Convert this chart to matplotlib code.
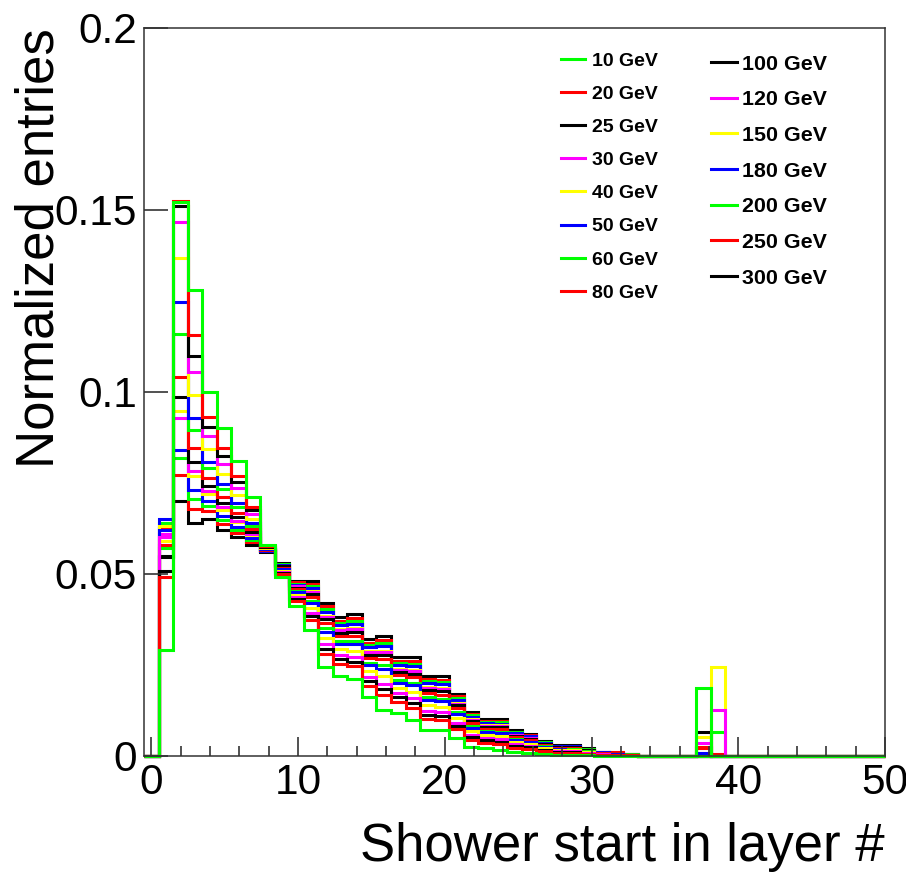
import matplotlib

matplotlib.use("Agg")
import matplotlib.pyplot as plt
import numpy as np
from matplotlib.lines import Line2D
from matplotlib.ticker import FuncFormatter, MultipleLocator

plt.rcParams["font.family"] = ["Liberation Sans", "DejaVu Sans"]

# ------------------------------------------------------------------ data
ENERGIES = [10, 20, 25, 30, 40, 50, 60, 80, 100, 120, 150, 180, 200, 250, 300]
COLORS = ["#00ff00", "#ff0000", "#000000", "#ff00ff", "#ffff00", "#0000ff",
          "#00ff00", "#ff0000", "#000000", "#ff00ff", "#ffff00", "#0000ff",
          "#00ff00", "#ff0000", "#000000"]

# normalized entries for layer bins 0..33
E10 = [0, 0.029, 0.152, 0.128, 0.100, 0.090, 0.081, 0.071, 0.058, 0.049, 0.041, 0.0345, 0.0245,
       0.022, 0.021, 0.016, 0.0126, 0.0117, 0.0098, 0.0071, 0.0071, 0.0048, 0.0025, 0.002,
       0.0015, 0.001, 0.0008, 0.0005, 0.0003, 0.0002, 0.0001, 0, 0, 0]
E20 = [0, 0.049, 0.1525, 0.1156, 0.093, 0.0844, 0.0768, 0.0684, 0.0576, 0.0498, 0.0424, 0.0372,
       0.028, 0.0252, 0.0246, 0.0192, 0.0167, 0.0148, 0.0132, 0.0101, 0.0098, 0.0072, 0.0044,
       0.0036, 0.0032, 0.0022, 0.0018, 0.0012, 0.0008, 0.0008, 0.0005, 0.0002, 0.0001, 0.0001]
E25 = [0, 0.0508, 0.151, 0.1098, 0.0902, 0.0822, 0.0751, 0.0674, 0.0574, 0.0501, 0.043, 0.0383,
       0.0294, 0.0265, 0.0258, 0.0205, 0.0183, 0.016, 0.0146, 0.0113, 0.0110, 0.0082, 0.0052,
       0.0042, 0.0039, 0.0027, 0.0023, 0.0015, 0.0011, 0.001, 0.0006, 0.0003, 0.0002, 0.0001]
E30 = [0, 0.060, 0.1467, 0.1055, 0.0877, 0.0802, 0.0736, 0.0664, 0.0573, 0.0504, 0.0435, 0.0392,
       0.0306, 0.0276, 0.0270, 0.0216, 0.0197, 0.0171, 0.0158, 0.0123, 0.0120, 0.0091, 0.0058,
       0.0048, 0.0045, 0.0031, 0.0026, 0.0017, 0.0012, 0.0012, 0.0008, 0.0004, 0.0002, 0.0001]
E40 = [0, 0.059, 0.1367, 0.0992, 0.0842, 0.0774, 0.0715, 0.0651, 0.0571, 0.0508, 0.0442, 0.0406,
       0.0324, 0.0292, 0.0288, 0.0232, 0.0218, 0.0186, 0.0175, 0.0138, 0.0135, 0.0103, 0.0068,
       0.0056, 0.0053, 0.0037, 0.0031, 0.0021, 0.0015, 0.0015, 0.001, 0.0005, 0.0003, 0.0002]
E50 = [0, 0.062, 0.1246, 0.0928, 0.0807, 0.0746, 0.0694, 0.0638, 0.0569, 0.0512, 0.0449, 0.0419,
       0.0341, 0.0308, 0.0306, 0.0248, 0.0238, 0.0201, 0.0193, 0.0153, 0.0150, 0.0115, 0.0077,
       0.0064, 0.0062, 0.0043, 0.0037, 0.0024, 0.0018, 0.0017, 0.0011, 0.0006, 0.0004, 0.0002]
E60 = [0, 0.057, 0.1159, 0.0896, 0.079, 0.0732, 0.0684, 0.0632, 0.0568, 0.0514, 0.0452, 0.0426,
       0.035, 0.0316, 0.0314, 0.0256, 0.0248, 0.0209, 0.0201, 0.016, 0.0157, 0.0121, 0.0082,
       0.0068, 0.0066, 0.0046, 0.0039, 0.0026, 0.0019, 0.0019, 0.0012, 0.0006, 0.0004, 0.0002]
E80 = [0, 0.058, 0.104, 0.0845, 0.0762, 0.071, 0.0667, 0.0622, 0.0566, 0.0517, 0.0458, 0.0437,
       0.0364, 0.0329, 0.0328, 0.0269, 0.0265, 0.0221, 0.0215, 0.0172, 0.0168, 0.0131, 0.009,
       0.0074, 0.0073, 0.0051, 0.0043, 0.0029, 0.0021, 0.0021, 0.0014, 0.0007, 0.0005, 0.0003]
E100 = [0, 0.0546, 0.0985, 0.0806, 0.0741, 0.0693, 0.0655, 0.0614, 0.0565, 0.052, 0.0462, 0.0445,
        0.0375, 0.0338, 0.0340, 0.0278, 0.0277, 0.023, 0.0225, 0.0181, 0.0178, 0.0138, 0.0095,
        0.0079, 0.0078, 0.0054, 0.0046, 0.0031, 0.0023, 0.0023, 0.0015, 0.0007, 0.0005, 0.0003]
E120 = [0, 0.061, 0.0929, 0.0781, 0.0727, 0.0682, 0.0646, 0.0609, 0.0564, 0.0521, 0.0465, 0.045,
        0.0382, 0.0345, 0.0348, 0.0285, 0.0285, 0.0236, 0.0232, 0.0187, 0.0184, 0.0143, 0.0099,
        0.0082, 0.0081, 0.0057, 0.0049, 0.0032, 0.0024, 0.0024, 0.0016, 0.0008, 0.0005, 0.0003]
E150 = [0, 0.063, 0.0947, 0.0768, 0.072, 0.0676, 0.0642, 0.0606, 0.0564, 0.0522, 0.0466, 0.0453,
        0.0385, 0.0348, 0.0352, 0.0288, 0.0289, 0.0239, 0.0236, 0.019, 0.0187, 0.0146, 0.0101,
        0.0084, 0.0083, 0.0058, 0.005, 0.0033, 0.0025, 0.0024, 0.0016, 0.0008, 0.0006, 0.0003]
E180 = [0, 0.065, 0.084, 0.073, 0.0699, 0.0659, 0.0629, 0.0598, 0.0563, 0.0524, 0.047, 0.0461,
        0.0396, 0.0358, 0.0362, 0.0298, 0.0301, 0.0249, 0.0246, 0.0199, 0.0196, 0.0153, 0.0107,
        0.0089, 0.0088, 0.0062, 0.0053, 0.0035, 0.0026, 0.0026, 0.0017, 0.0009, 0.0006, 0.0003]
E200 = [0, 0.064, 0.0818, 0.0704, 0.0685, 0.0648, 0.0621, 0.0593, 0.0562, 0.0526, 0.0473, 0.0467,
        0.0403, 0.0364, 0.0370, 0.0304, 0.031, 0.0255, 0.0253, 0.0205, 0.0202, 0.0158, 0.0111,
        0.0092, 0.0092, 0.0064, 0.0055, 0.0037, 0.0027, 0.0027, 0.0018, 0.0009, 0.0006, 0.0004]
E250 = [0, 0.0625, 0.0771, 0.0678, 0.0671, 0.0637, 0.0613, 0.0588, 0.0561, 0.0528, 0.0476, 0.0472,
        0.041, 0.037, 0.0379, 0.031, 0.0318, 0.0261, 0.026, 0.0211, 0.0209, 0.0163, 0.0114,
        0.0095, 0.0095, 0.0066, 0.0057, 0.0038, 0.0028, 0.0028, 0.0019, 0.0011, 0.0009, 0.0005]
E300 = [0, 0.055, 0.070, 0.064, 0.065, 0.062, 0.060, 0.058, 0.056, 0.053, 0.048, 0.048, 0.042,
        0.038, 0.039, 0.032, 0.033, 0.027, 0.027, 0.022, 0.022, 0.017, 0.012, 0.010, 0.010,
        0.007, 0.006, 0.004, 0.003, 0.003, 0.002, 0.001, 0.0007, 0.0004]

# events with no shower found, booked into the last layer (38 or 39 layer setups)
LAST_LAYER_38 = [0.0186, 0.0025, 0.0066, 0.0035, 0.0051, 0.0008, 0, 0.002, 0, 0, 0, 0, 0, 0, 0]
LAST_LAYER_39 = [0, 0, 0, 0, 0, 0, 0, 0, 0, 0.0126, 0.0245, 0, 0.0066, 0.0005, 0]

SERIES = [E10, E20, E25, E30, E40, E50, E60, E80, E100, E120, E150, E180, E200, E250, E300]

N_BINS = 51
LAYER_EDGES = np.linspace(-0.5, 50, N_BINS + 1)


def full_hist(values, n38, n39):
    h = np.zeros(N_BINS)
    h[: len(values)] = values
    h[38] += n38
    h[39] += n39
    return h


# ------------------------------------------------------------------ figure
W, H = 906, 872
fig = plt.figure(figsize=(W / 100, H / 100), dpi=100)
ax = fig.add_axes([144 / W, 1 - 755.7 / H, (885 - 144) / W, (755.7 - 27.7) / H])

# draw high energies first so the 10 GeV curve ends up on top
for i in reversed(range(len(ENERGIES))):
    h = full_hist(SERIES[i], LAST_LAYER_38[i], LAST_LAYER_39[i])
    ax.stairs(h, LAYER_EDGES, color=COLORS[i], lw=2.2, baseline=0, clip_on=False)

ax.set_xlim(-0.5, 50)
ax.set_ylim(0, 0.2)

ax.xaxis.set_major_locator(MultipleLocator(10))
ax.xaxis.set_minor_locator(MultipleLocator(2))
ax.yaxis.set_major_locator(MultipleLocator(0.05))
ax.yaxis.set_major_formatter(FuncFormatter(lambda v, p: f"{v:g}"))

ax.tick_params(axis="both", which="both", direction="in", top=False, right=False,
               colors="#333333", labelcolor="black", labelsize=30.5, width=1.2)
ax.tick_params(axis="x", which="major", length=13.5, pad=5)
ax.tick_params(axis="x", which="minor", length=7)
ax.tick_params(axis="y", which="major", length=17, pad=5)
for sp in ax.spines.values():
    sp.set_linewidth(1.1)
    sp.set_color("#333333")

fig.text(885 / W, 1 - 847 / H, "Shower start in layer #", ha="right", va="center", fontsize=38)
fig.text(40 / W, 1 - 28 / H, "Normalized entries", ha="center", va="top", rotation=90,
         fontsize=38)

# two-column legend, built as two separate legends
handles = [Line2D([], [], color=c, lw=2.2) for c in COLORS]
labels = [f"{e} GeV" for e in ENERGIES]

leg1 = ax.legend(handles[:8], labels[:8], loc="upper left",
                 bbox_to_anchor=(560.7 / W, 1 - 52 / H), bbox_transform=fig.transFigure,
                 frameon=False, borderpad=0, borderaxespad=0, handlelength=1.25,
                 handletextpad=0.35, labelspacing=0.8,
                 prop={"size": 14, "weight": "bold"})
ax.add_artist(leg1)
ax.legend(handles[8:], labels[8:], loc="upper left",
          bbox_to_anchor=(710.7 / W, 1 - 54.5 / H), bbox_transform=fig.transFigure,
          frameon=False, borderpad=0, borderaxespad=0, handlelength=1.21,
          handletextpad=0.25, labelspacing=0.78,
          prop={"size": 15.4, "weight": "bold"})

fig.savefig("out.png", dpi=100)
